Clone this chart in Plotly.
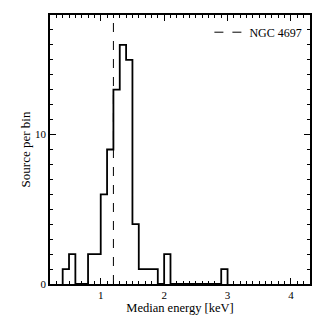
import plotly.graph_objects as go

bin_left = [round(0.4 + 0.1 * i, 1) for i in range(26)]
counts = [1, 2, 0, 0, 2, 2, 6, 9, 13, 16, 15, 4, 1, 1, 1, 0, 2, 0, 0, 0, 0, 0, 0, 0, 0, 1]
bin_width = 0.1
ngc_energy = 1.2
x_ticks = [1, 2, 3, 4]
y_ticks = [0, 10]

xs = [bin_left[0]] + bin_left + [round(bin_left[-1] + bin_width, 1)]
ys = [0] + counts + [0]

fig = go.Figure()
fig.add_trace(go.Scatter(x=xs, y=ys, mode="lines", line=dict(shape="hv", color="black", width=1.8),
                         showlegend=False, hoverinfo="skip"))
fig.add_trace(go.Scatter(x=[ngc_energy, ngc_energy], y=[0, 18], mode="lines",
                         line=dict(color="black", width=1, dash="dash"), name="NGC 4697"))

font = dict(family="Liberation Serif", color="black")
axis_common = dict(showgrid=False, zeroline=False, showline=True, linecolor="black", linewidth=1.5,
                   mirror="allticks", ticks="inside", ticklen=6, tickwidth=1, tickcolor="black",
                   tickfont=dict(family="Liberation Serif", size=11, color="black"))
fig.update_xaxes(range=[0.2, 4.3], tickvals=x_ticks, title=dict(text="Median energy [keV]", font=dict(size=12.5, **font), standoff=0),
                 minor=dict(dtick=0.1, ticks="inside", ticklen=3, tickcolor="black", tickwidth=1), **axis_common)
fig.update_yaxes(range=[0, 18], tickvals=y_ticks, title=dict(text="Source per bin", font=dict(size=13, **font), standoff=1),
                 minor=dict(dtick=1, ticks="inside", ticklen=3, tickcolor="black", tickwidth=1), **axis_common)
fig.update_layout(width=316, height=316, margin=dict(l=50, r=4, t=15, b=32),
                  plot_bgcolor="white", paper_bgcolor="white", font=dict(size=12, **font),
                  legend=dict(x=0.99, xanchor="right", y=0.99, yanchor="top", bgcolor="rgba(0,0,0,0)",
                              font=dict(family="Liberation Serif", size=12, color="black")))
fig.write_html("out.html", config={"displayModeBar": False},
               post_script="document.body.style.margin='0';document.body.style.overflow='hidden';")
